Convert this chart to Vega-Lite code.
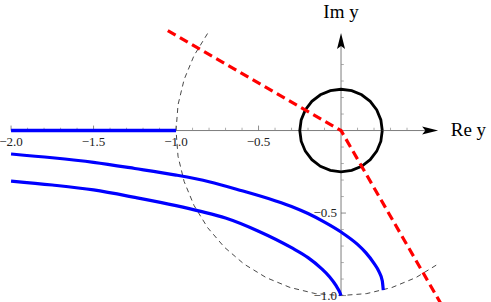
{
  "$schema": "https://vega.github.io/schema/vega-lite/v6.json",
  "width": 491,
  "height": 302,
  "padding": 0,
  "autosize": {"type": "none"},
  "background": "white",
  "config": {"view": {"stroke": null}},
  "datasets": {
    "unitArc": [
      {"x": -0.809, "y": 0.588}, {"x": -0.891, "y": 0.454}, {"x": -0.951, "y": 0.309},
      {"x": -0.988, "y": 0.156}, {"x": -1.0, "y": 0.0}, {"x": -0.988, "y": -0.156},
      {"x": -0.951, "y": -0.309}, {"x": -0.891, "y": -0.454}, {"x": -0.809, "y": -0.588},
      {"x": -0.707, "y": -0.707}, {"x": -0.588, "y": -0.809}, {"x": -0.454, "y": -0.891},
      {"x": -0.309, "y": -0.951}, {"x": -0.156, "y": -0.988}, {"x": 0.0, "y": -1.0},
      {"x": 0.156, "y": -0.988}, {"x": 0.309, "y": -0.951}, {"x": 0.454, "y": -0.891},
      {"x": 0.588, "y": -0.809}
    ],
    "axes": [
      {"x": -2.0, "y": 0, "x2": 0.57, "y2": 0},
      {"x": 0, "y": -1.0, "x2": 0, "y2": 0.57}
    ],
    "xMajor": [
      {"x": -2.0, "label": "−2.0"}, {"x": -1.5, "label": "−1.5"},
      {"x": -1.0, "label": "−1.0"}, {"x": -0.5, "label": "−0.5"}
    ],
    "xMinor": [
      {"x": -1.9}, {"x": -1.8}, {"x": -1.7}, {"x": -1.6}, {"x": -1.4}, {"x": -1.3},
      {"x": -1.2}, {"x": -1.1}, {"x": -0.9}, {"x": -0.8}, {"x": -0.7}, {"x": -0.6},
      {"x": -0.4}, {"x": -0.3}, {"x": -0.2}, {"x": -0.1}, {"x": 0.1}, {"x": 0.2},
      {"x": 0.3}, {"x": 0.4}
    ],
    "yMajor": [
      {"y": -1.0, "label": "−1.0"}, {"y": -0.5, "label": "−0.5"}
    ],
    "yMinor": [
      {"y": -0.9}, {"y": -0.8}, {"y": -0.7}, {"y": -0.6}, {"y": -0.4}, {"y": -0.3},
      {"y": -0.2}, {"y": -0.1}, {"y": 0.1}, {"y": 0.2}, {"y": 0.3}, {"y": 0.4}
    ],
    "cut": [{"x": -2.0, "y": 0}, {"x": -1.0, "y": 0}],
    "curves": [
      {"branch": "A", "x": -2.0, "y": -0.142}, {"branch": "A", "x": -1.75, "y": -0.165},
      {"branch": "A", "x": -1.5, "y": -0.193}, {"branch": "A", "x": -1.25, "y": -0.23},
      {"branch": "A", "x": -1.0, "y": -0.27}, {"branch": "A", "x": -0.8, "y": -0.31},
      {"branch": "A", "x": -0.6, "y": -0.365}, {"branch": "A", "x": -0.4, "y": -0.425},
      {"branch": "A", "x": -0.3, "y": -0.46}, {"branch": "A", "x": -0.2, "y": -0.503},
      {"branch": "A", "x": -0.1, "y": -0.555}, {"branch": "A", "x": 0.0, "y": -0.615},
      {"branch": "A", "x": 0.1, "y": -0.69}, {"branch": "A", "x": 0.15, "y": -0.74},
      {"branch": "A", "x": 0.2, "y": -0.805}, {"branch": "A", "x": 0.23, "y": -0.855},
      {"branch": "A", "x": 0.25, "y": -0.91}, {"branch": "A", "x": 0.256, "y": -0.967},
      {"branch": "B", "x": -2.0, "y": -0.306}, {"branch": "B", "x": -1.75, "y": -0.33},
      {"branch": "B", "x": -1.5, "y": -0.36}, {"branch": "B", "x": -1.25, "y": -0.405},
      {"branch": "B", "x": -1.0, "y": -0.455}, {"branch": "B", "x": -0.85, "y": -0.49},
      {"branch": "B", "x": -0.7, "y": -0.53}, {"branch": "B", "x": -0.5, "y": -0.61},
      {"branch": "B", "x": -0.3, "y": -0.71}, {"branch": "B", "x": -0.2, "y": -0.77},
      {"branch": "B", "x": -0.12, "y": -0.835}, {"branch": "B", "x": -0.07, "y": -0.886},
      {"branch": "B", "x": -0.03, "y": -0.94}, {"branch": "B", "x": -0.01, "y": -0.975},
      {"branch": "B", "x": 0.0, "y": -1.0}
    ],
    "circle": [
      {"x": 0.25, "y": 0}, {"x": 0.2415, "y": 0.0647}, {"x": 0.2165, "y": 0.125},
      {"x": 0.1768, "y": 0.1768}, {"x": 0.125, "y": 0.2165}, {"x": 0.0647, "y": 0.2415},
      {"x": 0, "y": 0.25}, {"x": -0.0647, "y": 0.2415}, {"x": -0.125, "y": 0.2165},
      {"x": -0.1768, "y": 0.1768}, {"x": -0.2165, "y": 0.125}, {"x": -0.2415, "y": 0.0647},
      {"x": -0.25, "y": 0}, {"x": -0.2415, "y": -0.0647}, {"x": -0.2165, "y": -0.125},
      {"x": -0.1768, "y": -0.1768}, {"x": -0.125, "y": -0.2165}, {"x": -0.0647, "y": -0.2415},
      {"x": 0, "y": -0.25}, {"x": 0.0647, "y": -0.2415}, {"x": 0.125, "y": -0.2165},
      {"x": 0.1768, "y": -0.1768}, {"x": 0.2165, "y": -0.125}, {"x": 0.2415, "y": -0.0647},
      {"x": 0.25, "y": 0}
    ],
    "ray": [{"x": -1.05, "y": 0.606}, {"x": 0, "y": 0}, {"x": 0.61, "y": -1.057}],
    "arrowX": [{"x": 0.54, "y": 0}],
    "arrowY": [{"x": 0, "y": 0.542}],
    "titleX": [{"x": 0.665, "y": -0.031, "label": "Re y"}],
    "titleY": [{"x": 0, "y": 0.68, "label": "Im y"}]
  },
  "layer": [
    {
      "data": {"name": "unitArc"},
      "mark": {"type": "line", "color": "#333333", "strokeWidth": 0.9, "strokeDash": [5, 4], "clip": true},
      "encoding": {
        "x": {"field": "x", "type": "quantitative", "scale": {"domain": [-2.067, 0.909], "nice": false, "zero": false}, "axis": null},
        "y": {"field": "y", "type": "quantitative", "scale": {"domain": [-1.039, 0.791], "nice": false, "zero": false}, "axis": null},
        "order": {"value": null}
      }
    },
    {
      "data": {"name": "axes"},
      "mark": {"type": "rule", "color": "#6e6e6e", "strokeWidth": 0.9},
      "encoding": {
        "x": {"field": "x", "type": "quantitative"},
        "y": {"field": "y", "type": "quantitative"},
        "x2": {"field": "x2"},
        "y2": {"field": "y2"}
      }
    },
    {
      "data": {"name": "xMajor"},
      "mark": {"type": "rule", "color": "#6e6e6e", "strokeWidth": 0.8},
      "encoding": {
        "x": {"field": "x", "type": "quantitative"},
        "y": {"datum": 0, "type": "quantitative"},
        "y2": {"datum": 0.03}
      }
    },
    {
      "data": {"name": "xMinor"},
      "mark": {"type": "rule", "color": "#8a8a8a", "strokeWidth": 0.7},
      "encoding": {
        "x": {"field": "x", "type": "quantitative"},
        "y": {"datum": 0, "type": "quantitative"},
        "y2": {"datum": 0.017}
      }
    },
    {
      "data": {"name": "yMajor"},
      "mark": {"type": "rule", "color": "#6e6e6e", "strokeWidth": 0.8},
      "encoding": {
        "y": {"field": "y", "type": "quantitative"},
        "x": {"datum": 0, "type": "quantitative"},
        "x2": {"datum": 0.03}
      }
    },
    {
      "data": {"name": "yMinor"},
      "mark": {"type": "rule", "color": "#8a8a8a", "strokeWidth": 0.7},
      "encoding": {
        "y": {"field": "y", "type": "quantitative"},
        "x": {"datum": 0, "type": "quantitative"},
        "x2": {"datum": 0.017}
      }
    },
    {
      "data": {"name": "xMajor"},
      "mark": {"type": "text", "font": "Liberation Serif", "fontSize": 13, "color": "#222222", "align": "center", "baseline": "alphabetic", "dy": 15},
      "encoding": {
        "x": {"field": "x", "type": "quantitative"},
        "y": {"datum": 0, "type": "quantitative"},
        "text": {"field": "label"}
      }
    },
    {
      "data": {"name": "yMajor"},
      "mark": {"type": "text", "font": "Liberation Serif", "fontSize": 13, "color": "#222222", "align": "right", "baseline": "middle", "dx": -4},
      "encoding": {
        "y": {"field": "y", "type": "quantitative"},
        "x": {"datum": 0, "type": "quantitative"},
        "text": {"field": "label"}
      }
    },
    {
      "data": {"name": "cut"},
      "mark": {"type": "line", "color": "#0000ff", "strokeWidth": 3.4},
      "encoding": {
        "x": {"field": "x", "type": "quantitative"},
        "y": {"field": "y", "type": "quantitative"},
        "order": {"value": null}
      }
    },
    {
      "data": {"name": "curves"},
      "mark": {"type": "line", "color": "#0000ff", "strokeWidth": 3.2, "interpolate": "monotone"},
      "encoding": {
        "x": {"field": "x", "type": "quantitative"},
        "y": {"field": "y", "type": "quantitative"},
        "detail": {"field": "branch"},
        "order": {"value": null}
      }
    },
    {
      "data": {"name": "circle"},
      "mark": {"type": "line", "color": "#000000", "strokeWidth": 2.8},
      "encoding": {
        "x": {"field": "x", "type": "quantitative"},
        "y": {"field": "y", "type": "quantitative"},
        "order": {"value": null}
      }
    },
    {
      "data": {"name": "ray"},
      "mark": {"type": "line", "color": "#ff0000", "strokeWidth": 3.2, "strokeDash": [9, 5], "clip": true},
      "encoding": {
        "x": {"field": "x", "type": "quantitative"},
        "y": {"field": "y", "type": "quantitative"},
        "order": {"value": null}
      }
    },
    {
      "data": {"name": "arrowX"},
      "mark": {"type": "point", "shape": "M1,0 L-1,-0.5 L-0.6,0 L-1,0.5 Z", "filled": true, "color": "#000000", "opacity": 1, "size": 256},
      "encoding": {
        "x": {"field": "x", "type": "quantitative"},
        "y": {"field": "y", "type": "quantitative"}
      }
    },
    {
      "data": {"name": "arrowY"},
      "mark": {"type": "point", "shape": "M0,-1 L-0.5,1 L0,0.6 L0.5,1 Z", "filled": true, "color": "#000000", "opacity": 1, "size": 256},
      "encoding": {
        "x": {"field": "x", "type": "quantitative"},
        "y": {"field": "y", "type": "quantitative"}
      }
    },
    {
      "data": {"name": "titleX"},
      "mark": {"type": "text", "font": "Liberation Serif", "fontSize": 19, "color": "#000000", "align": "left", "baseline": "alphabetic"},
      "encoding": {
        "x": {"field": "x", "type": "quantitative"},
        "y": {"field": "y", "type": "quantitative"},
        "text": {"field": "label"}
      }
    },
    {
      "data": {"name": "titleY"},
      "mark": {"type": "text", "font": "Liberation Serif", "fontSize": 19, "color": "#000000", "align": "center", "baseline": "alphabetic"},
      "encoding": {
        "x": {"field": "x", "type": "quantitative"},
        "y": {"field": "y", "type": "quantitative"},
        "text": {"field": "label"}
      }
    }
  ]
}
